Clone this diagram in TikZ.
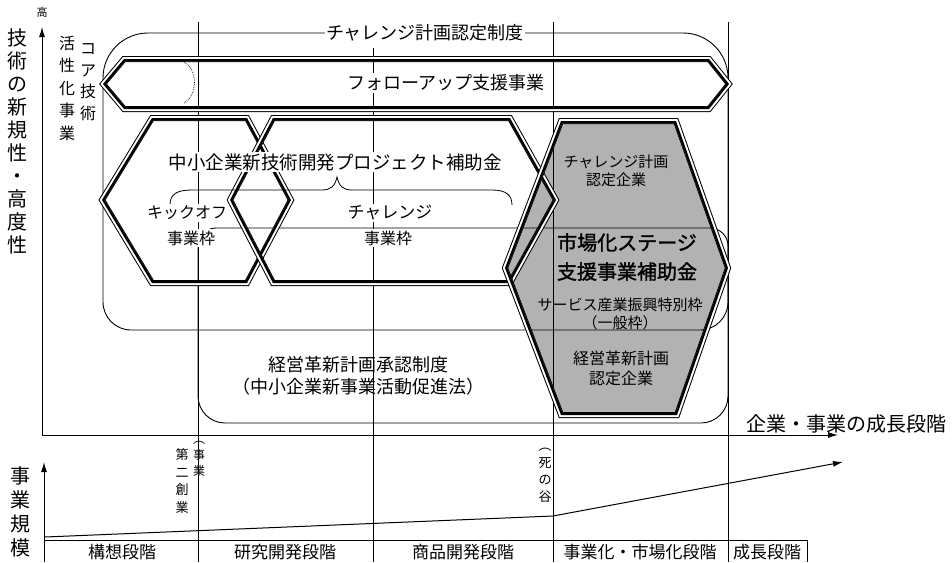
\documentclass[tikz,border=0pt]{standalone}
\usepackage{fontspec}
\setmainfont{Noto Sans CJK JP}
\newfontfamily\cjkb[FakeBold=1.6]{Noto Sans CJK JP}
\usetikzlibrary{arrows.meta}
\newcommand\dblshape[1]{%
  \draw[line width=6pt] #1;
  \draw[white,line width=4pt] #1;
  \begin{scope}\clip #1; \draw[line width=4.4pt] #1; \end{scope}}
\newcommand\fs[2]{\fontsize{#1}{#2}\selectfont}
\begin{document}
\begin{tikzpicture}[x=1pt,y=-1pt,
  every node/.style={inner sep=1pt},
  rline/.style={line width=0.9pt},
  divline/.style={line width=0.8pt},
  axis/.style={line width=1pt,-{Latex[length=10pt,width=6pt]}},
  wlabel/.style={fill=white,inner sep=1.5pt}]
\useasboundingbox[fill=white] (0,0) rectangle (952,562);

% shaded market hexagon interior
\fill[black!30] (505,268) -- (561,121) -- (676,121) -- (728,268) -- (677,415) -- (561,415) -- cycle;

% challenge plan region
\draw[rline, rounded corners=45pt] (103,200) -- (103,33) -- (728,33) -- (728,200);
\draw[rline, rounded corners=28pt] (728,200) -- (728,330) -- (103,330) -- (103,200);
% management innovation region
\draw[rline, rounded corners=18pt] (198,300) -- (198,228) -- (728,228) -- (728,330);
\draw[rline, rounded corners=27pt] (728,330) -- (728,423) -- (198,423) -- (198,300);

% stage dividers
\draw[divline] (198,22) -- (198,562);
\draw[divline] (373,48) -- (373,562);
\draw[divline] (553,22) -- (553,562);
\draw[divline] (728,22) -- (728,562);

% axes
\coordinate (o) at (42,435);
\coordinate (ytop) at (42,27);
\coordinate (xend) at (838,435);
\draw[axis] (o) -- (ytop);
\draw[axis] (o) -- (xend);
\coordinate (o2) at (44,562);
\coordinate (y2top) at (44,462);
\draw[axis] (o2) -- (y2top);
\coordinate (g0) at (45,537);
\coordinate (g1) at (553,516);
\coordinate (g2) at (843,462);
\draw[axis] (g0) -- (g1) -- (g2);

% bottom table
\draw[divline] (45,540) -- (807,540);
\draw[divline] (807,540) -- (807,562);

% dotted arc
\draw[densely dotted, line width=0.7pt] (184,62) .. controls (198,70) and (198,95) .. (184,103);

% hexagons
\dblshape{(103,84) -- (124,59) -- (709,59) -- (729,84) -- (709,109) -- (124,109) -- cycle}
\dblshape{(102,200) -- (152,118) -- (247,118) -- (291,200) -- (247,283) -- (152,283) -- cycle}
\dblshape{(230,200) -- (273,118) -- (510,118) -- (556,200) -- (510,283) -- (273,283) -- cycle}
\dblshape{(505,268) -- (561,121) -- (676,121) -- (728,268) -- (677,415) -- (561,415) -- cycle}

% brace
\draw[line width=0.8pt] (170,205) .. controls (170,194) and (177,190) .. (192,190) -- (322,190)
  .. controls (331,190) and (335,186) .. (337,177)
  .. controls (339,186) and (343,190) .. (352,190) -- (492,190)
  .. controls (506,190) and (512,195) .. (512,205);

% texts
\node[wlabel, font=\fs{18}{20}] (tcp) at (425,33) {チャレンジ計画認定制度};
\node[wlabel, font=\fs{18}{20}] (tfu) at (446,83) {フォローアップ支援事業};
\node[wlabel, font=\fs{18.5}{20}] (tsme) at (335,162) {中小企業新技術開発プロジェクト補助金};
\node[wlabel, font=\fs{16}{18}] (tko1) at (187,213) {キックオフ};
\node[wlabel, font=\fs{16}{18}] (tko2) at (191,238) {事業枠};
\node[wlabel, font=\fs{17}{18}] (tch1) at (390,213) {チャレンジ};
\node[wlabel, font=\fs{16}{18}] (tch2) at (388,238) {事業枠};

\node[font=\fs{15}{18}, align=center] (tmk1) at (616,171) {チャレンジ計画\\認定企業};
\node[font=\fs{20}{29}\cjkb, align=center] (tmk2) at (627,257) {市場化ステージ\\支援事業補助金};
\node[font=\fs{15}{18}, align=center] (tmk3) at (620,314) {サービス産業振興特別枠\\（一般枠）};
\node[font=\fs{16}{20}, align=center] (tmk4) at (621,368) {経営革新計画\\認定企業};

\node[font=\fs{18}{22}, align=center] (tmg) at (358,376) {経営革新計画承認制度\\（中小企業新事業活動促進法）};

\node[font=\fs{16}{21.5}, align=center] (tcore1) at (88,82) {コ\\ア\\技\\術};
\node[font=\fs{16}{22.5}, align=center] (tcore2) at (67,88) {活\\性\\化\\事\\業};

\node[font=\fs{20}{23}, align=center] (tyax) at (17,141) {技\\術\\の\\新\\規\\性\\・\\高\\度\\性};
\node[font=\fs{11}{12}] (thigh) at (42,12) {高};
\node[font=\fs{20}{24}, align=center] (tsize) at (20,512) {事\\業\\規\\模};
\node[wlabel, font=\fs{20}{22}, fill=none] (txax) at (846,424) {企業・事業の成長段階};

\node[font=\fs{12}{16}, align=center] (tdv1) at (199,459) {︵\\事\\業};
\node[font=\fs{13}{17.5}, align=center] (tdv2) at (182,481) {第\\二\\創\\業};
\node[font=\fs{13}{17}, align=center] (tdv3) at (545,475) {︵\\死\\の\\谷};

\node[font=\fs{17}{18}] (s1) at (122,552) {構想段階};
\node[font=\fs{17}{18}] (s2) at (285,552) {研究開発段階};
\node[font=\fs{17}{18}] (s3) at (463,552) {商品開発段階};
\node[font=\fs{17}{18}] (s4) at (640,552) {事業化・市場化段階};
\node[font=\fs{17}{18}] (s5) at (767,552) {成長段階};
\end{tikzpicture}
\end{document}
